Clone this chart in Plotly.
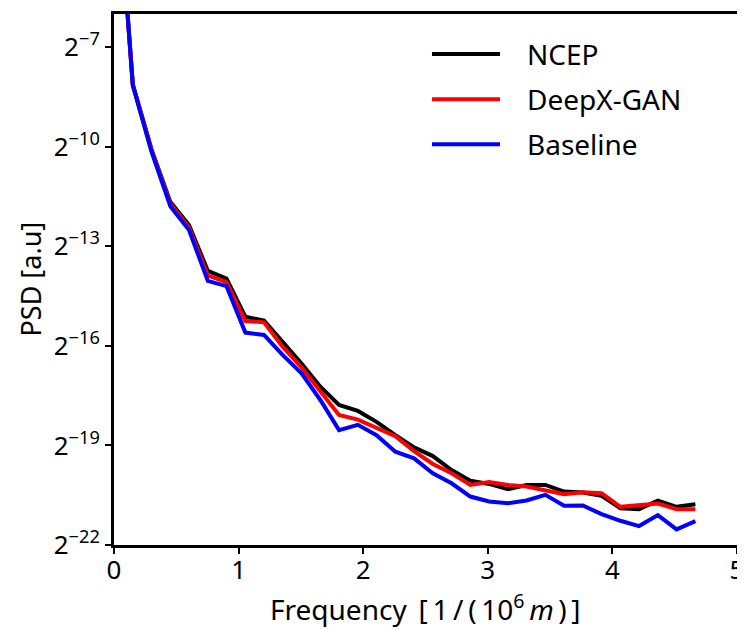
import numpy as np
import plotly.graph_objects as go

# Frequency [1/(10^6 m)]
freq = [0.000, 0.151, 0.301, 0.452, 0.602, 0.753, 0.903, 1.054, 1.204, 1.355,
        1.505, 1.656, 1.806, 1.957, 2.107, 2.258, 2.408, 2.559, 2.709, 2.860,
        3.010, 3.161, 3.311, 3.462, 3.612, 3.763, 3.913, 4.064, 4.214, 4.365,
        4.515, 4.666]

# PSD values given as log2 exponents (PSD = 2**value)
ncep_log2 = [-0.5, -8.12, -10.08, -11.66, -12.36, -13.74, -13.97, -15.12, -15.24, -15.87,
             -16.53, -17.23, -17.78, -17.96, -18.29, -18.69, -19.06, -19.32, -19.74, -20.06,
             -20.16, -20.32, -20.19, -20.19, -20.39, -20.42, -20.52, -20.89, -20.92, -20.66,
             -20.85, -20.77]
deepx_log2 = [-0.5, -8.14, -10.10, -11.72, -12.43, -13.88, -14.08, -15.25, -15.29, -16.03,
              -16.65, -17.38, -18.08, -18.22, -18.47, -18.72, -19.17, -19.56, -19.84, -20.19,
              -20.10, -20.19, -20.24, -20.34, -20.47, -20.41, -20.44, -20.85, -20.80, -20.75,
              -20.92, -20.92]
base_log2 = [-0.5, -8.15, -10.15, -11.79, -12.51, -14.04, -14.20, -15.60, -15.67, -16.28,
             -16.83, -17.63, -18.54, -18.38, -18.69, -19.19, -19.39, -19.84, -20.14, -20.54,
             -20.69, -20.74, -20.66, -20.49, -20.82, -20.81, -21.07, -21.27, -21.43, -21.10,
             -21.53, -21.28]

series_names = ["NCEP", "DeepX-GAN", "Baseline"]
series_colors = ["#000000", "#ff0000", "#0000ff"]
series_data = [ncep_log2, deepx_log2, base_log2]

y_tick_exps = [-7, -10, -13, -16, -19, -22]
x_tick_vals = [0, 1, 2, 3, 4, 5]

FONT = "Noto Sans"
FS = 26

fig = go.Figure()
for name, color, vals in zip(series_names, series_colors, series_data):
    fig.add_trace(go.Scatter(
        x=freq, y=2.0 ** np.array(vals), mode="lines", name=name,
        line=dict(color=color, width=4), showlegend=False,
    ))

# manual legend (longer line samples like the reference)
leg_y = [0.9247, 0.8394, 0.7546]
for name, color, yy in zip(series_names, series_colors, leg_y):
    fig.add_shape(type="line", xref="paper", yref="paper",
                  x0=0.5104, x1=0.6196, y0=yy, y1=yy,
                  line=dict(color=color, width=4))
    fig.add_annotation(xref="paper", yref="paper", x=0.6597, y=yy,
                       text=name, showarrow=False, xanchor="left", yanchor="middle",
                       font=dict(family=FONT, size=28, color="black"))

# axis titles
ts = "\u2009"
fig.add_annotation(xref="paper", yref="paper", x=0.5, y=-0.1168,
                   text=("Frequency " + ts + "[" + ts + "1" + ts + "/" + ts + "(" + ts + "10"
                         + "<sup>6</sup>" + ts + "<i>m</i>" + ts + ")" + ts + "]"),
                   showarrow=False, xanchor="center", yanchor="middle",
                   font=dict(family=FONT, size=28, color="black"))
fig.add_annotation(xref="paper", yref="paper", x=-0.1348, y=0.5,
                   text="PSD [a.u]", showarrow=False, textangle=-90,
                   xanchor="center", yanchor="middle",
                   font=dict(family=FONT, size=27, color="black"))

fig.update_layout(
    width=737, height=622,
    margin=dict(l=106, r=8, t=6, b=85),
    paper_bgcolor="white", plot_bgcolor="white",
    font=dict(family=FONT, size=FS, color="black"),
)
fig.update_xaxes(
    range=[0, 5], tickvals=x_tick_vals, ticktext=[str(v) for v in x_tick_vals],
    showline=True, linecolor="black", linewidth=3, mirror=True,
    ticks="outside", ticklen=6, tickwidth=1.5, tickcolor="black",
    ticklabelstandoff=-6, ticklabeloverflow="allow",
    showgrid=False, zeroline=False, automargin=False,
    tickfont=dict(family=FONT, size=FS),
)
fig.update_yaxes(
    type="log", range=[-22 * np.log10(2), -6 * np.log10(2)],
    tickvals=[2.0 ** e for e in y_tick_exps],
    ticktext=[f"2<sup>\u2212{abs(e)}</sup>" for e in y_tick_exps],
    showline=True, linecolor="black", linewidth=3, mirror=True,
    ticks="outside", ticklen=6, tickwidth=1.5, tickcolor="black",
    showgrid=False, zeroline=False, automargin=False,
    tickfont=dict(family=FONT, size=FS),
)

fig.write_html("out.html")
